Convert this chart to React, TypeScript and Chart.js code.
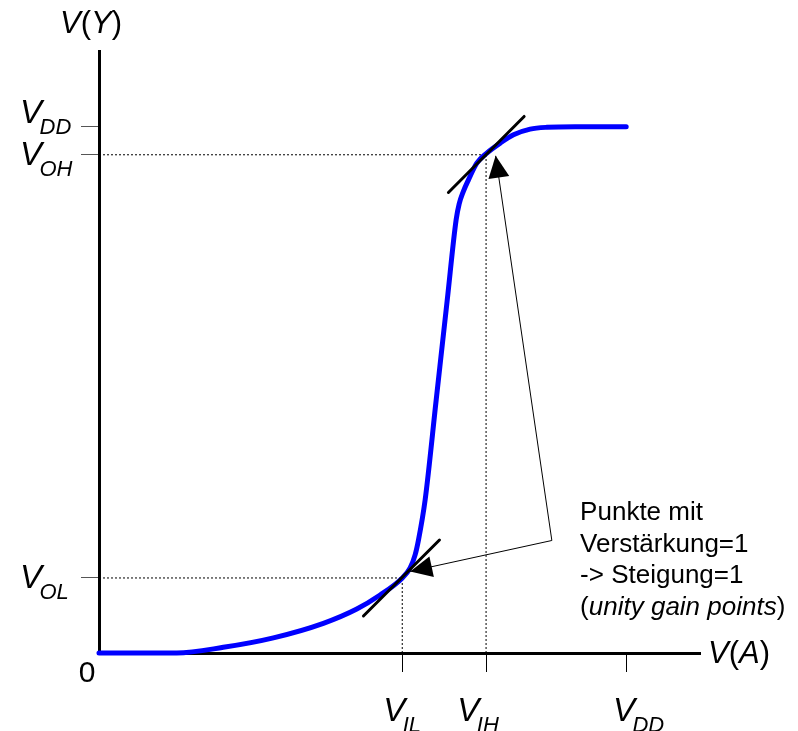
import React, { useEffect, useRef } from 'react';
import { Chart, registerables } from 'chart.js';

Chart.register(...registerables);

// ---- data (V_DD = 5 units) ----
const X_MAX = 5.7;
const Y_MAX = 5.72;

const xTickValues = [2.876, 3.671, 5.0];
const xTickMain = ['V', 'V', 'V'];
const xTickSub = ['IL', 'IH', 'DD'];

const yTickValues = [5.0, 4.734, 0.713];
const yTickMain = ['V', 'V', 'V'];
const yTickSub = ['DD', 'OH', 'OL'];

const curveX = [0, 0.737, 1.179, 1.654, 2.128, 2.445, 2.666, 2.872, 2.951, 2.998, 3.03, 3.093, 3.198, 3.303, 3.387, 3.416, 3.454, 3.504, 3.583, 3.678, 3.805, 3.931, 4.089, 4.248, 4.516, 5.0];
const curveY = [0, 0, 0.054, 0.144, 0.282, 0.418, 0.551, 0.708, 0.808, 0.932, 1.074, 1.454, 2.405, 3.356, 4.116, 4.268, 4.382, 4.496, 4.655, 4.75, 4.845, 4.924, 4.978, 4.995, 5.0, 5.0];

const tangentHighX = [3.314, 4.032];
const tangentHighY = [4.376, 5.098];
const tangentLowX = [2.508, 3.229];
const tangentLowY = [0.352, 1.074];

const arrowX = [3.762, 4.295, 2.951];
const arrowY = [4.724, 1.069, 0.775];

const annotationLines = ['Punkte mit', 'Verstärkung=1', '-> Steigung=1'];
const annotationItalic = 'unity gain points';
const annotationAnchor = [4.563, 1.264];

const zeroLabel = '0';
const xAxisTitle: [string, boolean][] = [['V', true], ['(', false], ['A', true], [')', false]];
const yAxisTitle: [string, boolean][] = [['V', true], ['(', false], ['Y', true], [')', false]];

// ---- layout / style constants ----
const FONT = '"Liberation Sans", Arial, Helvetica, sans-serif';
const xLabelDx = [-19, -28.7, -13.3];
const yLabelDy = [-4, 10, 10];

const pts = (xs: number[], ys: number[]) => xs.map((x, i) => ({ x, y: ys[i] }));

const labelsPlugin = {
  id: 'vtcLabels',
  afterDatasetsDraw(chart: any) {
    const ctx: CanvasRenderingContext2D = chart.ctx;
    const xs = chart.scales.x;
    const ys = chart.scales.y;
    const x0 = xs.getPixelForValue(0);
    const y0 = ys.getPixelForValue(0);
    ctx.save();
    ctx.fillStyle = '#000';
    ctx.textAlign = 'left';
    ctx.textBaseline = 'alphabetic';

    // arrowheads
    const head = (tx: number, ty: number, fx: number, fy: number) => {
      const ang = Math.atan2(ty - fy, tx - fx);
      const L = 22, W = 10.5;
      const bx = tx - L * Math.cos(ang), by = ty - L * Math.sin(ang);
      ctx.beginPath();
      ctx.moveTo(tx, ty);
      ctx.lineTo(bx + W * Math.sin(ang), by - W * Math.cos(ang));
      ctx.lineTo(bx - W * Math.sin(ang), by + W * Math.cos(ang));
      ctx.closePath();
      ctx.fill();
    };
    const vx = xs.getPixelForValue(arrowX[1]), vy = ys.getPixelForValue(arrowY[1]);
    head(xs.getPixelForValue(arrowX[0]), ys.getPixelForValue(arrowY[0]), vx, vy);
    head(xs.getPixelForValue(arrowX[2]), ys.getPixelForValue(arrowY[2]), vx, vy);

    const runs = (r: [string, boolean][], x: number, y: number, size: number) => {
      let cx = x;
      for (const [t, it] of r) {
        ctx.font = `${it ? 'italic ' : ''}${size}px ${FONT}`;
        ctx.fillText(t, cx, y);
        cx += ctx.measureText(t).width;
      }
    };
    const subLabel = (main: string, sub: string, x: number, base: number) => {
      ctx.font = `italic 33px ${FONT}`;
      ctx.fillText(main, x, base);
      ctx.font = `italic 22px ${FONT}`;
      ctx.fillText(sub, x + 19.5, base + 11);
    };

    // x tick labels
    xTickValues.forEach((v, i) => {
      const px = xs.getPixelForValue(v);
      subLabel(xTickMain[i], xTickSub[i], px + xLabelDx[i], y0 + 68);
    });
    // y tick labels
    yTickValues.forEach((v, i) => {
      const py = ys.getPixelForValue(v);
      subLabel(yTickMain[i], yTickSub[i], x0 - 79, py + yLabelDy[i]);
    });

    // zero
    ctx.font = `30px ${FONT}`;
    ctx.textAlign = 'right';
    ctx.fillText(zeroLabel, x0 - 3.5, y0 + 29);
    ctx.textAlign = 'left';

    // axis titles
    runs(xAxisTitle, xs.getPixelForValue(X_MAX) + 8, y0 + 10, 31);
    runs(yAxisTitle, x0 - 39, ys.getPixelForValue(Y_MAX) - 18, 31);

    // annotation
    const ax = xs.getPixelForValue(annotationAnchor[0]);
    const ay = ys.getPixelForValue(annotationAnchor[1]);
    const lh = 31.7;
    ctx.font = `26px ${FONT}`;
    annotationLines.forEach((t, i) => ctx.fillText(t, ax, ay + i * lh));
    runs([['(', false], [annotationItalic, true], [')', false]], ax, ay + 3 * lh, 26);

    ctx.restore();
  },
};

export default function App() {
  const ref = useRef<HTMLCanvasElement>(null);
  useEffect(() => {
    document.body.style.margin = '0';
    const guideStyle = {
      borderColor: '#000',
      borderWidth: 1,
      borderDash: [2, 2],
      pointRadius: 0,
      fill: false,
      clip: false as const,
    };
    const chart = new Chart(ref.current!, {
      type: 'line',
      data: {
        datasets: [
          {
            data: pts(arrowX, arrowY),
            borderColor: '#000',
            borderWidth: 1,
            pointRadius: 0,
            tension: 0,
            clip: false,
          } as any,
          {
            data: pts(tangentHighX, tangentHighY),
            borderColor: '#000',
            borderWidth: 3,
            borderCapStyle: 'round',
            pointRadius: 0,
            clip: false,
          },
          {
            data: pts(tangentLowX, tangentLowY),
            borderColor: '#000',
            borderWidth: 3,
            borderCapStyle: 'round',
            pointRadius: 0,
            clip: false,
          },
          {
            data: pts(curveX, curveY),
            borderColor: '#0000ff',
            borderWidth: 5,
            borderCapStyle: 'round',
            borderJoinStyle: 'round',
            cubicInterpolationMode: 'monotone',
            pointRadius: 0,
            clip: false,
          },
          { ...guideStyle, data: pts([0, xTickValues[1]], [yTickValues[1], yTickValues[1]]) },
          { ...guideStyle, data: pts([0, xTickValues[0]], [yTickValues[2], yTickValues[2]]) },
          { ...guideStyle, data: pts([xTickValues[0], xTickValues[0]], [0, yTickValues[2]]) },
          { ...guideStyle, data: pts([xTickValues[1], xTickValues[1]], [0, yTickValues[1]]) },
        ] as any,
      },
      options: {
        animation: false,
        responsive: false,
        devicePixelRatio: 1,
        layout: { padding: { left: 81, right: 98, top: 51, bottom: 59 } },
        plugins: { legend: { display: false }, tooltip: { enabled: false } },
        events: [],
        scales: {
          x: {
            type: 'linear',
            min: 0,
            max: X_MAX,
            afterBuildTicks: (s: any) => {
              s.ticks = xTickValues.map((v) => ({ value: v }));
            },
            ticks: { display: false },
            grid: { drawOnChartArea: false, drawTicks: true, tickLength: 19, tickColor: '#000', tickWidth: 1 },
            border: { display: true, color: '#000', width: 3 },
          },
          y: {
            type: 'linear',
            min: 0,
            max: Y_MAX,
            afterBuildTicks: (s: any) => {
              s.ticks = yTickValues.map((v) => ({ value: v }));
            },
            ticks: { display: false },
            grid: { drawOnChartArea: false, drawTicks: true, tickLength: 18, tickColor: '#555', tickWidth: 1 },
            border: { display: true, color: '#000', width: 3 },
          },
        },
      } as any,
      plugins: [labelsPlugin],
    });
    return () => chart.destroy();
  }, []);
  return (
    <canvas
      ref={ref}
      width={798}
      height={731}
      style={{ display: 'block', width: 798, height: 731 }}
    />
  );
}
